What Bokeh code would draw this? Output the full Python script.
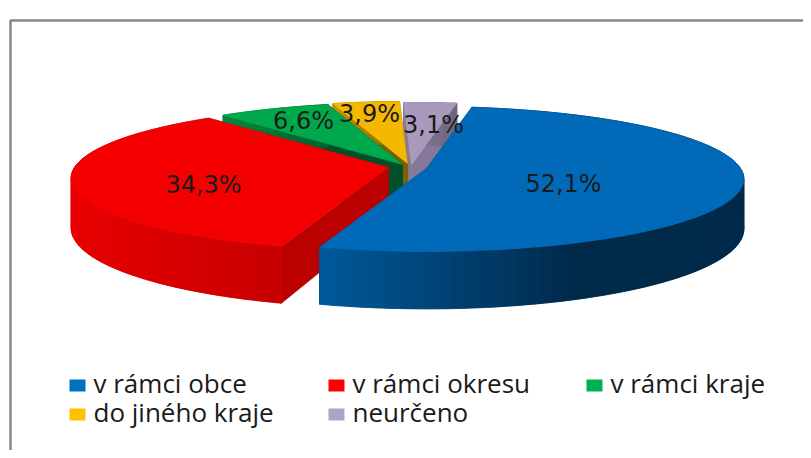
import math
from bokeh.plotting import figure
from bokeh.models import Range1d, ColumnDataSource
from bokeh.core.properties import value
from bokeh.embed import file_html
from bokeh.resources import INLINE

categories = ["v rámci obce", "v rámci okresu", "v rámci kraje", "do jiného kraje", "neurčeno"]
shares = [52.1, 34.3, 6.6, 3.9, 3.1]
key_colors = ["#0070c0", "#ff0000", "#00b050", "#ffc000", "#b1a0c7"]
top_colors = ["#006ab8", "#f40000", "#00a84c", "#f4b800", "#a99abd"]
face_colors = ["#00406e", "#bb0000", "#00502a", "#7d6000", "#857899"]
rim_left = ["#005a9b", "#e80000", "#008a3c", "#c89600", "#8a7d9c"]
rim_right = ["#002a4a", "#c60000", "#00602c", "#8a6800", "#6e6380"]
rim_reach = [0.6, 1.0, 1.0, 1.0, 1.0]

W, H = 803, 450
p = figure(width=W, height=H, output_backend="svg", toolbar_location=None,
           x_range=Range1d(0, W), y_range=Range1d(H, 0), min_border=0)
p.axis.visible = False
p.grid.visible = False
p.outline_line_color = None
p.background_fill_color = "#ffffff"

# frame
p.line([10, 10, W], [H, 20, 20], line_color="#868686", line_width=2.5)

# pie projection
A, B, K, D, START = 314.0, 71.0, 0.145, 49.0, 9.5
apex = [(426, 168), (388, 167), (402, 164), (407, 163), (411, 164)]

def proj(cx, cy, deg):
    t = math.radians(deg)
    u, v = math.sin(t), -math.cos(t)
    s = 1 / (1 - K * v)
    return cx + A * u * s, cy + B * v * s, s

def mix(c1, c2, f):
    a = [int(c1[i:i+2], 16) for i in (1, 3, 5)]
    b = [int(c2[i:i+2], 16) for i in (1, 3, 5)]
    return "#%02x%02x%02x" % tuple(round(x + (y - x) * f) for x, y in zip(a, b))

spans = []
a0 = START
for v in shares:
    a1 = a0 + v * 3.6
    spans.append((a0, a1))
    a0 = a1

for i in [4, 3, 2, 1, 0]:
    cx, cy = apex[i]
    a0, a1 = spans[i]
    n = max(2, int((a1 - a0) / 1.0))
    angs = [a0 + (a1 - a0) * j / n for j in range(n + 1)]
    pts = [proj(cx, cy, a) for a in angs]
    # radial cut faces
    fx, fy, fc = [], [], []
    for (x, y, s) in (pts[0], pts[-1]):
        fx.append([cx, x, x, cx])
        fy.append([cy, y, y + D * s, cy + D])
        fc.append(face_colors[i])
    p.patches(xs="x", ys="y", fill_color="c", line_color="c", line_width=0.5,
              source=ColumnDataSource(dict(x=fx, y=fy, c=fc)))
    # outer rim: shaded bands with a solid base under them, so no gaps show
    xmin, xmax = min(q[0] for q in pts), max(q[0] for q in pts)
    rim_x = [q[0] for q in pts] + [q[0] for q in reversed(pts)]
    rim_y = [q[1] for q in pts] + [q[1] + D * q[2] for q in reversed(pts)]
    p.patch(rim_x, rim_y, fill_color=mix(rim_left[i], rim_right[i], 0.5),
            line_color=mix(rim_left[i], rim_right[i], 0.5), line_width=0.5)
    step = 2
    rx, ry, rc = [], [], []
    for j in range(0, n, step):
        seg = pts[j:j + step + 1]
        rx.append([q[0] for q in seg] + [q[0] for q in reversed(seg)])
        ry.append([q[1] for q in seg] + [q[1] + D * q[2] for q in reversed(seg)])
        f = (sum(q[0] for q in seg) / len(seg) - xmin) / max(1, xmax - xmin)
        rc.append(mix(rim_left[i], rim_right[i], min(1.0, f / rim_reach[i])))
    p.patches(xs="x", ys="y", fill_color="c", line_color="c", line_width=0.6,
              source=ColumnDataSource(dict(x=rx, y=ry, c=rc)))
    # top surface
    p.patch([cx] + [q[0] for q in pts], [cy] + [q[1] for q in pts],
            fill_color=top_colors[i], line_color=top_colors[i], line_width=0.5)

# data labels
label_x = [563, 203, 303, 369, 433]
label_y = [183, 184, 120, 113, 124]
p.text(x=label_x, y=label_y, text=[f"{v:.1f}%".replace(".", ",") for v in shares],
       text_font=value("DejaVu Sans"), text_font_size="24px", text_color="#1a1a1a",
       text_align="center", text_baseline="middle")

# legend
key_x = [69, 328, 586, 69, 328]
key_y = [385, 385, 385, 414, 414]
p.rect(x=[k + 8 for k in key_x], y=key_y, width=16, height=12, fill_color=key_colors, line_color=None)
p.text(x=[k + 24 for k in key_x], y=[k - 3 for k in key_y], text=categories,
       text_font=value("Open Sans"), text_font_size="26px", text_color="#1a1a1a",
       text_align="left", text_baseline="middle")

open("out.html", "w").write(file_html(p, INLINE))
